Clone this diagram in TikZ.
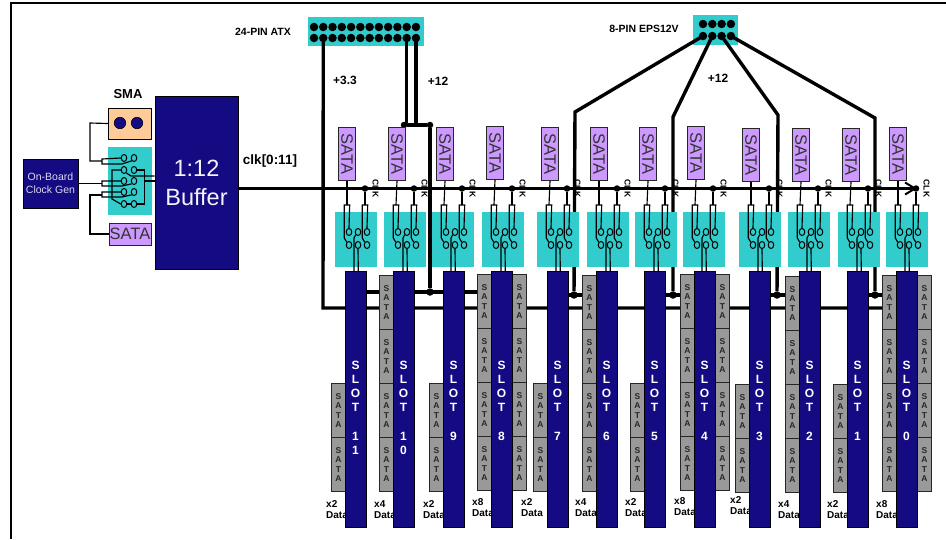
\documentclass[tikz,border=0pt]{standalone}
\usepackage{fontspec}
\setmainfont{Liberation Sans}
\usetikzlibrary{shapes.geometric,arrows.meta}

\definecolor{navy}{HTML}{140A82}
\definecolor{tealbox}{HTML}{33CCCC}
\definecolor{purplebox}{HTML}{CC99FF}
\definecolor{peachbox}{HTML}{FFCC99}
\definecolor{graybox}{HTML}{999999}

\tikzset{
  navybox/.style={rectangle, draw=black, line width=1pt, fill=navy, text=white, inner sep=0pt},
  swbox/.style={rectangle, draw=none, fill=tealbox, inner sep=0pt},
  satabig/.style={rectangle, draw=black!85, line width=1pt, fill=purplebox, inner sep=0pt, text=black!80, font=\fontsize{16.5}{17}\selectfont},
  satasmall/.style={rectangle, draw=black!85, line width=1pt, fill=graybox, anchor=north west, inner sep=0pt,
    minimum width=14pt, minimum height=54pt, align=center, text=black!85, font=\bfseries\fontsize{8.5}{9.6}\selectfont},
  slotbar/.style={navybox, anchor=north west, minimum width=21pt, minimum height=256pt},
  slottext/.style={anchor=north, align=center, text=white, inner sep=0pt, font=\bfseries\fontsize{12}{14}\selectfont},
  lbl/.style={inner sep=0pt, align=left, font=\bfseries\fontsize{10}{11}\selectfont},
  clklbl/.style={inner sep=0pt, rotate=-90, font=\bfseries\fontsize{8.5}{8.5}\selectfont},
  wire/.style={draw=black, line width=1.15pt},
  rail/.style={draw=black, line width=3.4pt},
  pin/.style={circle, fill=black, inner sep=0pt, minimum size=8.5pt},
  junction/.style={circle, fill=black, inner sep=0pt, minimum size=7.5pt},
  dot/.style={circle, fill=black, inner sep=0pt, minimum size=6.5pt},
  hole/.style={ellipse, draw=black, line width=1pt, inner sep=0pt, minimum width=5.5pt, minimum height=7pt},
}

\begin{document}
\begin{tikzpicture}[x=1pt, y=-1pt]
  \useasboundingbox (0,0) rectangle (946,539);

  % frame
  \coordinate(frame-a) at (946,3);
  \coordinate(frame-b) at (11,3);
  \coordinate(frame-c) at (11,539);
  \draw[line width=2pt] (frame-a) -- (frame-b) -- (frame-c);

  % power connectors
  \node(atx)[swbox, minimum width=116pt, minimum height=29pt] at (366,31.5) {};
  \node(eps)[swbox, minimum width=45pt, minimum height=30pt] at (715.5,30) {};
  \foreach \i in {1,...,12} {
    \node(atx-t-\i)[pin] at ({314+(\i-1)*9.27},27) {};
    \node(atx-b-\i)[pin] at ({314+(\i-1)*9.27},38) {};
  }
  \foreach \i in {1,...,4} {
    \node(eps-t-\i)[pin] at ({703+(\i-1)*9.3},24) {};
    \node(eps-b-\i)[pin] at ({703+(\i-1)*9.3},36) {};
  }

  \node(lbl-atx)[lbl, font=\bfseries\fontsize{10.5}{11}\selectfont] at (263,32) {24-PIN ATX};
  \node(lbl-eps)[lbl, font=\bfseries\fontsize{10.5}{11}\selectfont] at (644,29) {8-PIN EPS12V};
  \node(lbl-33)[lbl, font=\bfseries\fontsize{12}{13}\selectfont] at (345,80) {+3.3};
  \node(lbl-12a)[lbl, font=\bfseries\fontsize{12}{13}\selectfont] at (438,81) {+12};
  \node(lbl-12b)[lbl, font=\bfseries\fontsize{12}{13}\selectfont] at (718,78) {+12};

  % power rails
  \coordinate(rail-33-a) at (323,308);
  \coordinate(rail-33-b) at (896,308);
  \draw[rail] (atx-b-2.center) -- (rail-33-a) -- (rail-33-b);

  \node(bus-a)[dot] at (404,125) {};
  \node(bus-b)[dot] at (430,125) {};
  \node(rail-j-0)[junction] at (430,292) {};
  \coordinate(rail-12-a) at (366,292);
  \coordinate(rail-12-b) at (491,292);
  \draw[rail] (atx-b-11.center) -- (atx-b-11 |- bus-a);
  \draw[rail] (atx-b-12.center) -- (atx-b-12 |- bus-a);
  \draw[rail] (bus-a) -- (bus-b) -- (rail-j-0);
  \draw[rail] (rail-12-a) -- (rail-12-b);

  \foreach \i/\bx/\by/\jx in {1/575/112/574,2/673/117/673,3/778/115/777,4/875/118/875} {
    \coordinate(eps-bend-\i) at (\bx,\by);
    \node(rail-j-\i)[junction] at (\jx,295) {};
    \draw[rail] (eps-b-\i.center) -- (eps-bend-\i) -- (rail-j-\i);
    \draw[rail] (rail-j-\i) ++(-8,0) -- ++(16,0);
  }

  % clock source side
  \node(gen)[navybox, minimum width=55pt, minimum height=49pt, align=center,
    font=\fontsize{10.5}{13}\selectfont, text=white!85!navy] at (50.5,183.5) {On-Board\\Clock Gen};
  \node(buffer)[navybox, minimum width=83pt, minimum height=173pt, align=center,
    font=\fontsize{23.5}{29}\selectfont, text=white!95!navy] at (196.5,182.5) {1:12\\Buffer};
  \node(sma)[rectangle, draw=black, line width=1pt, fill=peachbox, minimum width=43pt, minimum height=31pt, inner sep=0pt] at (130,123.5) {};
  \node(sma-1)[circle, draw=black, line width=0.6pt, fill=navy, minimum size=11.5pt, inner sep=0pt] at (120,123) {};
  \node(sma-2)[circle, draw=black, line width=0.6pt, fill=navy, minimum size=11.5pt, inner sep=0pt] at (137,123) {};
  \node(lbl-sma)[lbl, font=\bfseries\fontsize{13}{14}\selectfont] at (128,94) {SMA};
  \node(lbl-clk)[lbl, font=\bfseries\fontsize{13.5}{15}\selectfont] at (270,161) {clk[0:11]};
  \node(lsata)[satabig, minimum width=42pt, minimum height=22pt] at (130,234) {SATA};
  \node(lsw)[swbox, minimum width=44pt, minimum height=68pt] at (130,181) {};

  \foreach \i/\ry in {1/158,2/170,3/181,4/192,5/204} {
    \node(lsw-\i-l)[hole] at (124,\ry) {};
    \node(lsw-\i-r)[hole] at (134,\ry) {};
  }
  \foreach \i/\ry in {1/159,3/181,4/192} {
    \draw[wire] (lsw-\i-l.west) -- (102,\ry) -- (102,\ry+5) -- (122,\ry+5) -- (lsw-\i-r.south west);
  }
  \draw[wire] (lsw-2-l.west) -- (112,170) -- (112,199) -- (lsw-5-l.west);
  \draw[wire] (lsw-2-r.east) -- (144.5,170) -- (144.5,204) -- (lsw-5-r.east);
  \draw[wire] (lsw-5-r.west) -- (lsw-5-l.east);

  \coordinate(lsw-out-a) at (131,176);
  \coordinate(lsw-out-b) at (144.5,181);
  \draw[wire] (lsw-2-l.south east) -- (lsw-out-a) -- (lsw-out-a -| buffer.west);
  \draw[wire] (lsw-out-b) -- (lsw-out-b -| buffer.west);

  \draw[wire] (sma.west) -- (90,123) -- (90,161) -- (102,161);
  \draw[wire] (gen.east) -- (102,183.5);
  \draw[wire] (lsata.west) -- (90,234) -- (90,195) -- (102,195);

  % clock line
  \coordinate(clk-end) at (917,188.5);
  \draw[line width=2.2pt, -{Straight Barb[length=10pt, width=12pt, line width=2pt]}] (buffer.east |- clk-end) -- (clk-end);

  % one column for each slot: number / stacked digits / slot x / teal x / sata x / width / label x / label y / shift
  \foreach \num/\digits/\sx/\tx/\px/\wide/\lx/\ly/\dy in {
    11/{1\\1}/345/335/338/2/326/505/0,
    10/{1\\0}/393/384/388/4/374/505/0,
    9/{9}/443/432/436/2/423/505/0,
    8/{8}/491/482/486/8/472/503/-1,
    7/{7}/547/537/541/2/521/503/0,
    6/{6}/596/587/590/4/575/503/0,
    5/{5}/644/635/639/2/625/503/0,
    4/{4}/694/683/687/8/674/502/-1,
    3/{3}/749/739/742/2/730/501/1,
    2/{2}/799/788/792/4/778/505/1,
    1/{1}/847/838/842/2/827/505/1,
    0/{0}/896/886/889/8/876/505/0} {

    \node(lbl-\num)[lbl, anchor=north west, yshift=4.5pt] at (\lx,\ly) {x\wide\\Data};

    \node(sata-\num)[satabig, minimum width=17pt, minimum height=53pt, anchor=north west] at (\px,127+\dy) {\rotatebox{-90}{SATA}};

    \foreach \k in {383,437} {
      \node(low-\num-\k)[satasmall] at ({\sx-14},\k+\dy) {S\\A\\T\\A};
    }
    \ifnum\wide>2
      \foreach \k in {275,329} {
        \node(low-\num-\k)[satasmall] at ({\sx-14},\k+\dy) {S\\A\\T\\A};
      }
    \fi
    \ifnum\wide>4
      \foreach \k in {275,329,383,437} {
        \node(high-\num-\k)[satasmall] at ({\sx+21},\k+\dy) {S\\A\\T\\A};
      }
    \fi

    \node(slot-\num)[slotbar] at (\sx,271) {};
    \node(slot-txt-\num)[slottext] at ({\sx+10.5},360.5) {S\\L\\O\\T\\[15pt]\digits};

    \begin{scope}[shift={(\tx,212)}]
      \node(sw-\num)[swbox, minimum width=42pt, minimum height=55pt] at (21,27.5) {};
      \foreach \name/\cx/\cy in {a/14/20,b/14/33,c/23/20,d/23/33,e/32/20,f/32/33} {
        \node(sw-\num-\name)[hole] at (\cx,\cy) {};
      }
      \coordinate(u-\num-a) at (12,-7);
      \coordinate(u-\num-b) at (30,-7);
      \coordinate(sl-\num-a) at (19,59);
      \coordinate(sl-\num-b) at (23.3,59);
      \draw[wire] (sw-\num-a.north) -- (14.7,-7) -- (9.3,-7) -- (9.3,26) -- (sw-\num-b.north west);
      \draw[wire] (sw-\num-e.north) -- (32.7,-7) -- (27.3,-7) -- (27.3,26) -- (sw-\num-f.north west);
      \draw[wire] (sl-\num-a) -- (19,26) -- (sw-\num-c.south west);
      \draw[wire] (sl-\num-b) -- (sw-\num-d.south);
    \end{scope}

    \node(clk-dot-\num)[dot] at (u-\num-b |- clk-end) {};
    \draw[wire] (sata-\num.south) -- (u-\num-a);
    \draw[wire] (clk-dot-\num) -- (u-\num-b);
    \node(clk-lbl-\num)[clklbl] at ([xshift=10.5pt]clk-dot-\num) {CLK};
  }
\end{tikzpicture}
\end{document}
